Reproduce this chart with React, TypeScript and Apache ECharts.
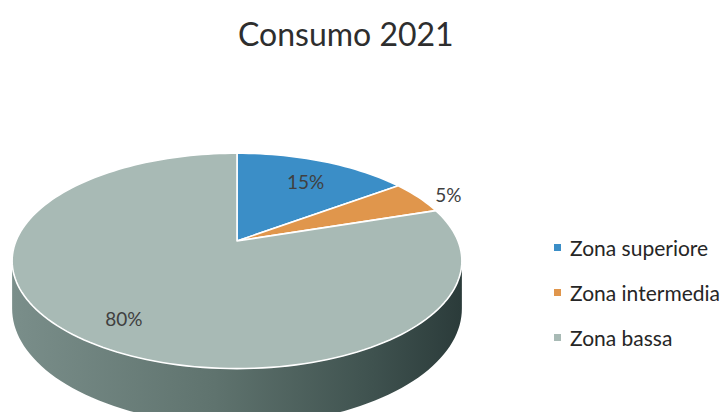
import React, { useEffect, useRef } from "react";
import * as echarts from "echarts";

const chartTitle = "Consumo 2021";
const categories = ["Zona superiore", "Zona intermedia", "Zona bassa"];
const values = [15, 5, 80];
const colors = ["#3b8ec7", "#e0964c", "#a8bab5"];

export default function App() {
  const ref = useRef<HTMLDivElement>(null);

  useEffect(() => {
    document.body.style.margin = "0";
    const chart = echarts.init(ref.current!, null, { renderer: "svg" });

    const total = values.reduce((a, b) => a + b, 0);
    const starts: number[] = [];
    let acc = 0;
    values.forEach((v) => {
      starts.push(acc);
      acc += v;
    });

    // perspective pie geometry
    const CX = 237, CY = 241, R = 221, H = 104, K = 0.185, D = 46;
    const proj = (theta: number, f: number, drop = 0): number[] => {
      const u = f * Math.sin(theta);
      const v = -f * Math.cos(theta);
      const w = 1 - K * v;
      return [CX + (R * u) / w, CY + (H * v + drop) / w];
    };
    const TWO_PI = Math.PI * 2;
    const frontA = Math.acos(-K);
    const frontB = TWO_PI - frontA;

    const sideGradient = new echarts.graphic.LinearGradient(0, 0, 1, 0, [
      { offset: 0, color: "#7a8e8a" },
      { offset: 0.45, color: "#5f736e" },
      { offset: 0.8, color: "#3f524f" },
      { offset: 1, color: "#2b3b3a" },
    ]);

    const series = categories.map((name, i) => ({
      type: "custom",
      name,
      coordinateSystem: "none",
      data: [[values[i]]],
      itemStyle: { color: colors[i] },
      renderItem: (_params: any, api: any) => {
        const val = api.value(0) as number;
        const a0 = (starts[i] / total) * TWO_PI;
        const a1 = a0 + (val / total) * TWO_PI;
        const children: any[] = [];

        // side (front wall)
        const s0 = Math.max(a0, frontA);
        const s1 = Math.min(a1, frontB);
        if (s1 > s0) {
          const n = 80;
          const top: number[][] = [];
          const bot: number[][] = [];
          for (let k = 0; k <= n; k++) {
            const t = s0 + ((s1 - s0) * k) / n;
            top.push(proj(t, 1, 0));
            bot.push(proj(t, 1, D));
          }
          children.push({
            type: "polygon",
            shape: { points: top.concat(bot.reverse()) },
            style: { fill: sideGradient, stroke: null },
          });
        }

        // top face
        const n = Math.max(4, Math.ceil(((a1 - a0) / TWO_PI) * 200));
        const pts: number[][] = [[CX, CY]];
        for (let k = 0; k <= n; k++) {
          pts.push(proj(a0 + ((a1 - a0) * k) / n, 1));
        }
        children.push({
          type: "polygon",
          shape: { points: pts },
          style: { fill: colors[i], stroke: "#ffffff", lineWidth: 1.6, lineJoin: "round" },
        });

        // label
        const mid = (a0 + a1) / 2;
        const outside = val / total < 0.1;
        const p = proj(mid, outside ? 1.18 : 0.77);
        children.push({
          type: "text",
          x: p[0],
          y: p[1] + 4,
          style: {
            text: Math.round((val / total) * 100) + "%",
            font: "19px Lato",
            fill: "#404040",
            align: "center",
            verticalAlign: "middle",
          },
        });

        return { type: "group", children };
      },
    }));

    chart.setOption({
      animation: false,
      backgroundColor: "#ffffff",
      title: {
        text: chartTitle,
        left: 233,
        top: 12,
        textStyle: { fontFamily: "Lato", fontSize: 32, fontWeight: "normal", color: "#2e2e2e" },
      },
      legend: {
        orient: "vertical",
        left: 549,
        top: 232,
        itemWidth: 7,
        itemHeight: 7,
        itemGap: 24,
        icon: "rect",
        data: categories,
        textStyle: {
          fontFamily: "Lato",
          fontSize: 21,
          color: "#262626",
          lineHeight: 21,
          padding: [0, 0, 0, 4],
        },
      },
      series,
    } as any);

    return () => chart.dispose();
  }, []);

  return <div ref={ref} style={{ width: 728, height: 412 }} />;
}
